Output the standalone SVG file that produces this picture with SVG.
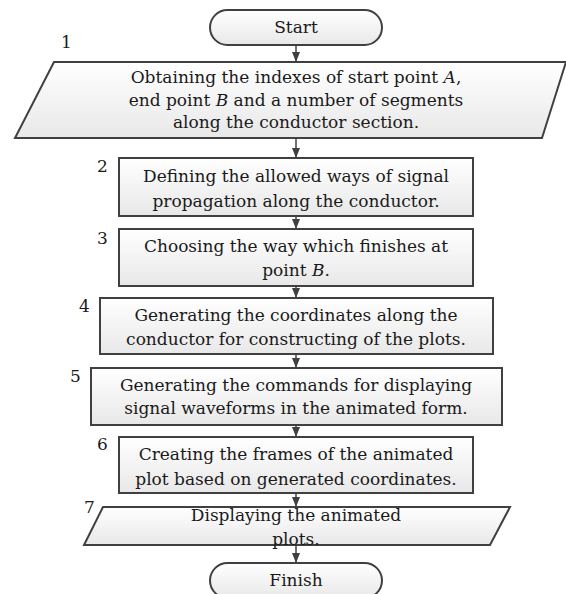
<svg xmlns="http://www.w3.org/2000/svg" width="566" height="594" viewBox="0 0 566 594">
<defs>
<linearGradient id="g" x1="0" y1="0" x2="0" y2="1">
<stop offset="0" stop-color="#ffffff"/>
<stop offset="1" stop-color="#e8e8e8"/>
</linearGradient>
<marker id="ah" markerWidth="10" markerHeight="10" refX="9" refY="5" orient="auto" markerUnits="userSpaceOnUse">
<path d="M0,1 L10,5 L0,9 Z" fill="#404040"/>
</marker>
</defs>
<style>
.s{fill:url(#g);stroke:#404040;stroke-width:2}
.t{font-family:"DejaVu Serif","Liberation Serif",serif;font-size:17px;fill:#1a1a1a;text-anchor:middle}
.n{font-family:"DejaVu Serif","Liberation Serif",serif;font-size:17px;fill:#1a1a1a}
.c{stroke:#404040;stroke-width:1.5;fill:none;marker-end:url(#ah)}
</style>
<rect width="566" height="594" fill="#fff"/>
<g id="connectors">
<line class="c" x1="296" y1="46" x2="296" y2="61"/>
<line class="c" x1="296" y1="139" x2="296" y2="157"/>
<line class="c" x1="296" y1="216" x2="296" y2="228"/>
<line class="c" x1="296" y1="286" x2="296" y2="297"/>
<line class="c" x1="296" y1="354" x2="296" y2="367"/>
<line class="c" x1="296" y1="425" x2="296" y2="436"/>
<line class="c" x1="296" y1="493" x2="296" y2="506"/>
<line class="c" x1="296" y1="545" x2="296" y2="562"/>
</g>
<g id="start">
<rect class="s" x="210" y="10" width="172" height="35" rx="17.5"/>
<text class="t" x="296" y="33">Start</text>
</g>
<g id="step1">
<text class="n" x="61" y="48">1</text>
<polygon class="s" points="54,62 566,62 542,138 15,138"/>
<text class="t" x="296" y="83">Obtaining the indexes of start point <tspan font-style="italic">A</tspan>,</text>
<text class="t" x="296" y="106">end point <tspan font-style="italic">B</tspan> and a number of segments</text>
<text class="t" x="296" y="128">along the conductor section.</text>
</g>
<g id="step2">
<text class="n" x="97" y="172">2</text>
<rect class="s" x="119" y="158" width="354" height="58"/>
<text class="t" x="296" y="182">Defining the allowed ways of signal</text>
<text class="t" x="296" y="207">propagation along the conductor.</text>
</g>
<g id="step3">
<text class="n" x="97" y="244">3</text>
<rect class="s" x="119" y="229" width="354" height="57"/>
<text class="t" x="296" y="252">Choosing the way which finishes at</text>
<text class="t" x="296" y="276">point <tspan font-style="italic">B</tspan>.</text>
</g>
<g id="step4">
<text class="n" x="79" y="312">4</text>
<rect class="s" x="100" y="298" width="393" height="56"/>
<text class="t" x="296" y="321">Generating the coordinates along the</text>
<text class="t" x="296" y="345">conductor for constructing of the plots.</text>
</g>
<g id="step5">
<text class="n" x="70" y="382">5</text>
<rect class="s" x="91" y="368" width="411" height="57"/>
<text class="t" x="296" y="391">Generating the commands for displaying</text>
<text class="t" x="296" y="414">signal waveforms in the animated form.</text>
</g>
<g id="step6">
<text class="n" x="97" y="450">6</text>
<rect class="s" x="119" y="437" width="354" height="56"/>
<text class="t" x="296" y="460">Creating the frames of the animated</text>
<text class="t" x="296" y="485">plot based on generated coordinates.</text>
</g>
<g id="step7">
<text class="n" x="84" y="513">7</text>
<polygon class="s" points="103,507 510,507 490,545 84,545"/>
<text class="t" x="296" y="521">Displaying the animated</text>
<text class="t" x="296" y="545">plots.</text>
</g>
<g id="finish">
<rect class="s" x="210" y="563" width="172" height="35" rx="17.5"/>
<text class="t" x="296" y="586">Finish</text>
</g>
</svg>
